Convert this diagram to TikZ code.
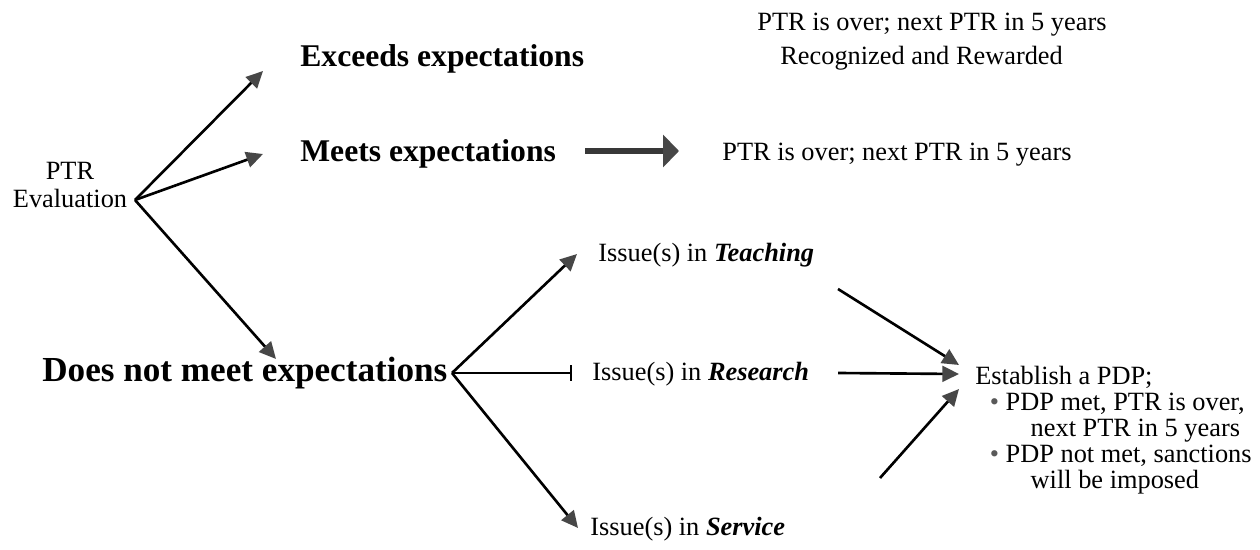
\documentclass[tikz,border=0pt]{standalone}
\usepackage{fontspec}
\setmainfont{Liberation Serif}
\usetikzlibrary{arrows.meta}

\tikzset{
  flow/.style={black, line width=1.5pt, -{Triangle[length=9.5pt,width=9pt,black!72]}},
  stopline/.style={black, line width=1.5pt, -{Bar[width=9pt,line width=1.2pt]}},
  fatarrow/.style={black!78, line width=3.2pt, -{Triangle[length=9pt,width=18pt,black!72]}},
  plain/.style={inner sep=0pt, anchor=base west, font=\fontsize{15}{16}\selectfont},
  boldA/.style={inner sep=0pt, anchor=base west, font=\fontsize{18}{20}\selectfont\bfseries},
  boldB/.style={inner sep=0pt, anchor=base west, font=\fontsize{20}{22}\selectfont\bfseries},
}

\begin{document}
\begin{tikzpicture}[x=0.02cm, y=-0.02cm]

\useasboundingbox (0,0) rectangle (1260,550);

% nodes
{
\node[plain, anchor=base, align=center, font=\fontsize{15}{16}\selectfont] (evalnode) at (70,208) {PTR\\Evaluation};

\node[boldA] (exceeds) at (300,67) {Exceeds expectations};
\node[boldA] (meets) at (300,162) {Meets expectations};
\node[boldB] (notmeet) at (42,381) {Does not meet expectations};

\node[plain] (exceedsres) at (757,31) {PTR is over; next PTR in 5 years};
\node[plain] (rewarded) at (780,65) {Recognized and Rewarded};
\node[plain] (meetsres) at (722,161) {PTR is over; next PTR in 5 years};

\node[plain] (teaching) at (598,262) {Issue(s) in \textbf{\textit{Teaching}}};
\node[plain] (research) at (592,380) {Issue(s) in \textbf{\textit{Research}}};
\node[plain] (service) at (590,535) {Issue(s) in \textbf{\textit{Service}}};

\node[plain, anchor=north west, align=left, font=\fontsize{15}{14.8}\selectfont] (pdp) at (975,366)
{Establish a PDP;\\
\hspace*{0.55em}{\color{black!65}\textbullet}\ PDP met, PTR is over,\\
\hspace*{2.1em}next PTR in 5 years\\
\hspace*{0.55em}{\color{black!65}\textbullet}\ PDP not met, sanctions\\
\hspace*{2.1em}will be imposed};
}

% end points
{
\coordinate (hubA) at (135,200);
\coordinate (tipX) at (263,71);
\coordinate (tipM) at (263,154);
\coordinate (tipN) at (276,359);

\coordinate (hubB) at (452,373);
\coordinate (tipT) at (577,254);
\coordinate (barR) at (572,373);
\coordinate (tipS) at (578,528);

\coordinate (outT) at (838,289);
\coordinate (outR) at (838,373);
\coordinate (outS) at (880,478);
\coordinate (inT) at (959,365);
\coordinate (inR) at (959,374);
\coordinate (inS) at (959,389);

\coordinate (fatA) at (585,151);
\coordinate (fatB) at (679,151);
}

% arrows
\draw[flow] (hubA) -- (tipX);
\draw[flow] (hubA) -- (tipM);
\draw[flow] (hubA) -- (tipN);

\draw[fatarrow] (fatA) -- (fatB);

\draw[flow] (hubB) -- (tipT);
\draw[stopline] (hubB) -- (barR);
\draw[flow] (hubB) -- (tipS);

\draw[flow] (outT) -- (inT);
\draw[flow] (outR) -- (inR);
\draw[flow] (outS) -- (inS);

\end{tikzpicture}
\end{document}
